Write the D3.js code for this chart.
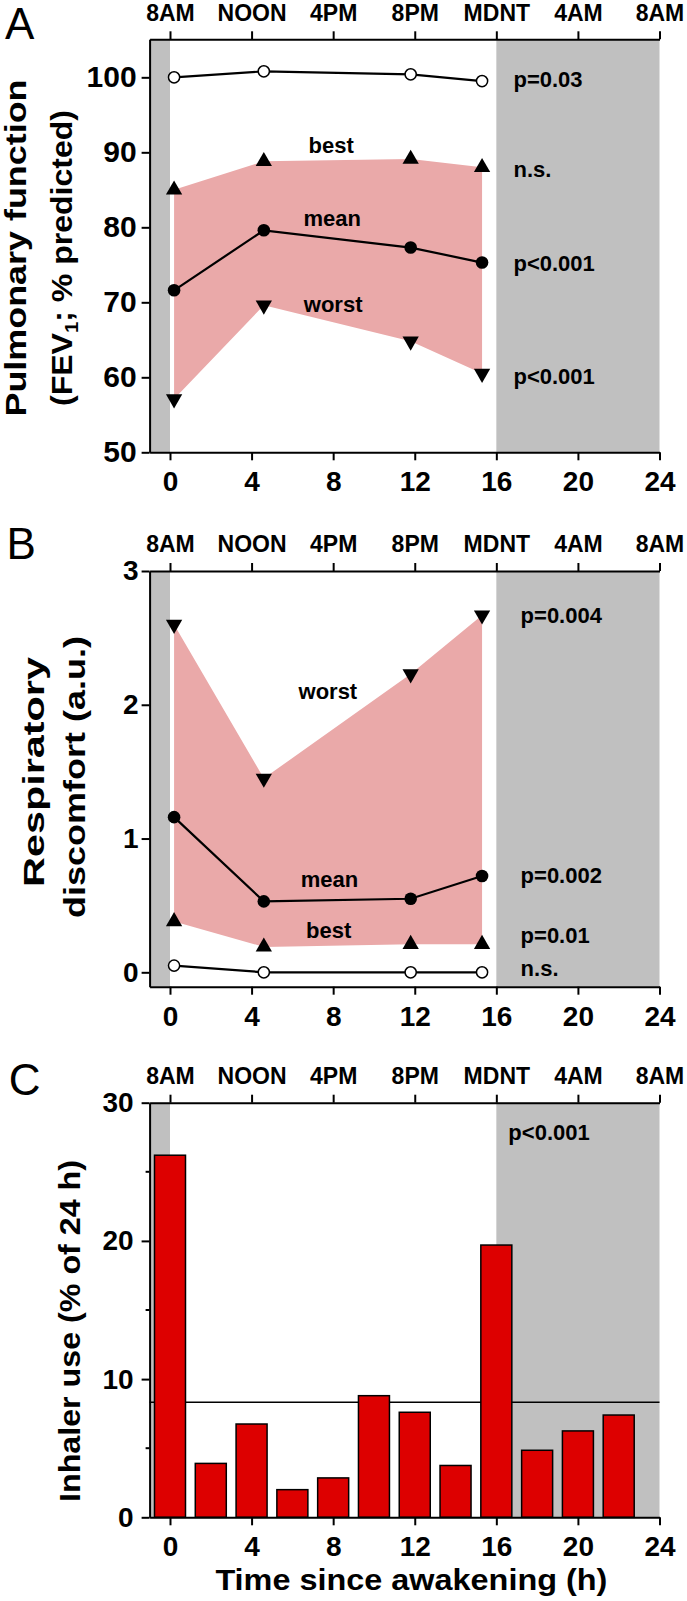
<!DOCTYPE html>
<html><head><meta charset="utf-8">
<script src="https://cdn.jsdelivr.net/npm/d3@7"></script>
<style>
html,body{margin:0;padding:0;background:#fff;}
svg text{font-family:"Liberation Sans",Arial,sans-serif;font-weight:bold;fill:#000;}
</style></head>
<body>
<svg id="c" width="687" height="1601"></svg>
<script>
// ---------- data ----------
const times = [0.2, 4.6, 11.8, 15.3];
const topLabels = ["8AM","NOON","4PM","8PM","MDNT","4AM","8AM"];
const xTicks = [0,4,8,12,16,20,24];

const fevOpen  = [100.0, 100.8, 100.4, 99.5];
const fevBest  = [85.0, 88.8, 89.1, 88.0];
const fevMean  = [71.6, 79.6, 77.3, 75.3];
const fevWorst = [57.1, 69.6, 64.8, 60.5];

const discOpen  = [0.05, 0.0, 0.0, 0.0];
const discBest  = [0.38, 0.19, 0.21, 0.21];
const discMean  = [1.16, 0.53, 0.55, 0.72];
const discWorst = [2.60, 1.45, 2.23, 2.67];

const binCenters = [0,2,4,6,8,10,12,14,16,18,20,22];
const inhaler = [26.2, 3.9, 6.75, 2.0, 2.85, 8.8, 7.6, 3.75, 19.7, 4.85, 6.25, 7.4];
const inhalerMean = 8.33;

const nightBands = [[-1,0],[16,24]];

// ---------- drawing ----------
const svg = d3.select("#c");
const GRAY = "#c0c0c0", PINK = "#eaa9a9", RED = "#dd0000";
const x = d3.scaleLinear().domain([-1,24]).range([149.6,659.5]);

function panel(opts){
  const g = svg.append("g");
  const y = opts.y;
  const [y0,y1] = y.domain();
  g.selectAll("rect.band").data(nightBands).join("rect")
    .attr("x", d=>x(d[0])).attr("width", d=>x(d[1])-x(d[0]))
    .attr("y", y(y1)).attr("height", y(y0)-y(y1)).attr("fill", GRAY);
  if (opts.draw) opts.draw(g, y);
  const ax = d3.axisTop(x).tickValues(xTicks).tickFormat((d,i)=>topLabels[i])
      .tickSize(8).tickPadding(10.6).tickSizeOuter(0);
  const gt = g.append("g").attr("transform",`translate(0,${y(y1)})`).call(ax);
  gt.selectAll("text").attr("font-size",23);
  const ab = d3.axisBottom(x).tickValues(xTicks).tickSize(8).tickPadding(11).tickSizeOuter(0);
  const gb = g.append("g").attr("transform",`translate(0,${y(y0)})`).call(ab);
  gb.selectAll("text").attr("font-size",28);
  const al = d3.axisLeft(y).tickValues(opts.yTicks).tickFormat(d3.format("d"))
      .tickSize(8).tickPadding(opts.pad).tickSizeOuter(0);
  const gl = g.append("g").attr("transform",`translate(${x(-1)},0)`).call(al);
  gl.selectAll("text").attr("font-size",opts.yFont);
  if (opts.minor){
    gl.selectAll("line.minor").data(opts.minor).join("line")
      .attr("x1",-4).attr("x2",0).attr("y1",d=>y(d)).attr("y2",d=>y(d))
      .attr("stroke","#000").attr("stroke-width",2);
  }
  [gt,gb,gl].forEach(a=>{
    a.selectAll("path,line").attr("stroke","#000").attr("stroke-width",2);
    a.selectAll("text").attr("fill","#000").style("font-family",'"Liberation Sans",Arial,sans-serif').style("font-weight","bold");
    a.attr("font-family",null);
  });
  svg.append("text").attr("x",opts.letter[1]).attr("y",opts.letter[2])
    .attr("font-size",44).style("font-weight","normal").text(opts.letter[0]);
  (opts.notes||[]).forEach(n=>{
    g.append("text").attr("x",x(n[1])).attr("y",y(n[2]))
      .attr("font-size",22).attr("text-anchor",n[3]||"start").text(n[0]);
  });
  return g;
}

function linePanel(g, y, open, best, mean, worst){
  const pts = times.map((t,i)=>({t,i}));
  const area = d3.area().x(d=>x(d.t)).y0(d=>y(worst[d.i])).y1(d=>y(best[d.i]));
  g.append("path").datum(pts).attr("d",area).attr("fill",PINK);
  const ln = arr => d3.line().x(d=>x(d.t)).y(d=>y(arr[d.i]));
  g.append("path").datum(pts).attr("d",ln(open)).attr("fill","none").attr("stroke","#000").attr("stroke-width",2.2);
  g.append("path").datum(pts).attr("d",ln(mean)).attr("fill","none").attr("stroke","#000").attr("stroke-width",2.2);
  const tri = d3.symbol().type(d3.symbolTriangle).size(115);
  g.selectAll("path.up").data(pts).join("path").attr("class","up")
    .attr("d",tri).attr("transform",d=>`translate(${x(d.t)},${y(best[d.i])})`).attr("fill","#000");
  g.selectAll("path.dn").data(pts).join("path").attr("class","dn")
    .attr("d",tri).attr("transform",d=>`translate(${x(d.t)},${y(worst[d.i])}) rotate(180)`).attr("fill","#000");
  g.selectAll("circle.m").data(pts).join("circle").attr("class","m")
    .attr("cx",d=>x(d.t)).attr("cy",d=>y(mean[d.i])).attr("r",6.3).attr("fill","#000");
  g.selectAll("circle.o").data(pts).join("circle").attr("class","o")
    .attr("cx",d=>x(d.t)).attr("cy",d=>y(open[d.i])).attr("r",5.6)
    .attr("fill","#fff").attr("stroke","#000").attr("stroke-width",1.5);
}

// Panel A
const yA = d3.scaleLinear().domain([50,105.07]).range([452.3,39.3]);
panel({y:yA, yTicks:[50,60,70,80,90,100], pad:5, yFont:30, letter:["A",5,39],
  draw:(g,y)=>linePanel(g,y,fevOpen,fevBest,fevMean,fevWorst),
  notes:[["p=0.03",16.84,98.67],["n.s.",16.84,86.75],["p<0.001",16.84,74.17],["p<0.001",16.84,59.07],
         ["best",7.9,89.95,"middle"],["mean",7.95,80.17,"middle"],["worst",8.0,68.75,"middle"]]});

// Panel B
const yB = d3.scaleLinear().domain([-0.1076,3]).range([986.7,571]);
panel({y:yB, yTicks:[0,1,2,3], pad:3, yFont:28, letter:["B",6.6,559],
  draw:(g,y)=>linePanel(g,y,discOpen,discBest,discMean,discWorst),
  notes:[["p=0.004",17.19,2.609],["p=0.002",17.19,0.67],["p=0.01",17.19,0.217],["n.s.",17.19,-0.028],
         ["worst",7.74,2.04,"middle"],["mean",7.82,0.64,"middle"],["best",7.78,0.254,"middle"]]});

// Panel C
const yC = d3.scaleLinear().domain([0,30]).range([1517.3,1102.7]);
panel({y:yC, yTicks:[0,10,20,30], minor:[5,15,25], pad:8, yFont:28, letter:["C",8.8,1095],
  draw:(g,y)=>{
    g.append("line").attr("x1",x(-1)).attr("x2",x(24)).attr("y1",y(inhalerMean)).attr("y2",y(inhalerMean))
      .attr("stroke","#000").attr("stroke-width",1.4);
    const bw = 1.52;
    g.selectAll("rect.bar").data(binCenters).join("rect").attr("class","bar")
      .attr("x",(d)=>x(d-bw/2)).attr("width",x(bw)-x(0))
      .attr("y",(d,i)=>y(inhaler[i])).attr("height",(d,i)=>y(0)-y(inhaler[i]))
      .attr("fill",RED).attr("stroke","#000").attr("stroke-width",1.5);
  },
  notes:[["p<0.001",16.59,27.3]]});

// axis titles
function vtitle(txt, xb, yc, len, sub){
  const t = svg.append("text").attr("transform",`translate(${xb},${yc}) rotate(-90)`)
    .attr("text-anchor","middle").attr("font-size",30)
    .attr("textLength",len).attr("lengthAdjust","spacingAndGlyphs");
  if (sub){
    t.append("tspan").text(txt[0]);
    t.append("tspan").attr("font-size",19).attr("dy",6).text(sub);
    t.append("tspan").attr("dy",-6).text(txt[1]);
  } else t.text(txt);
}
vtitle("Pulmonary function", 26, 248, 337);
vtitle(["(FEV","; % predicted)"], 72, 258, 296, "1");
vtitle("Respiratory", 43.5, 772, 230);
vtitle("discomfort (a.u.)", 85, 777, 282);
vtitle("Inhaler use (% of 24 h)", 80, 1331, 342);
svg.append("text").attr("x",411.4).attr("y",1590).attr("text-anchor","middle")
  .attr("font-size",30).attr("textLength",392).attr("lengthAdjust","spacingAndGlyphs")
  .text("Time since awakening (h)");
</script>
</body></html>
